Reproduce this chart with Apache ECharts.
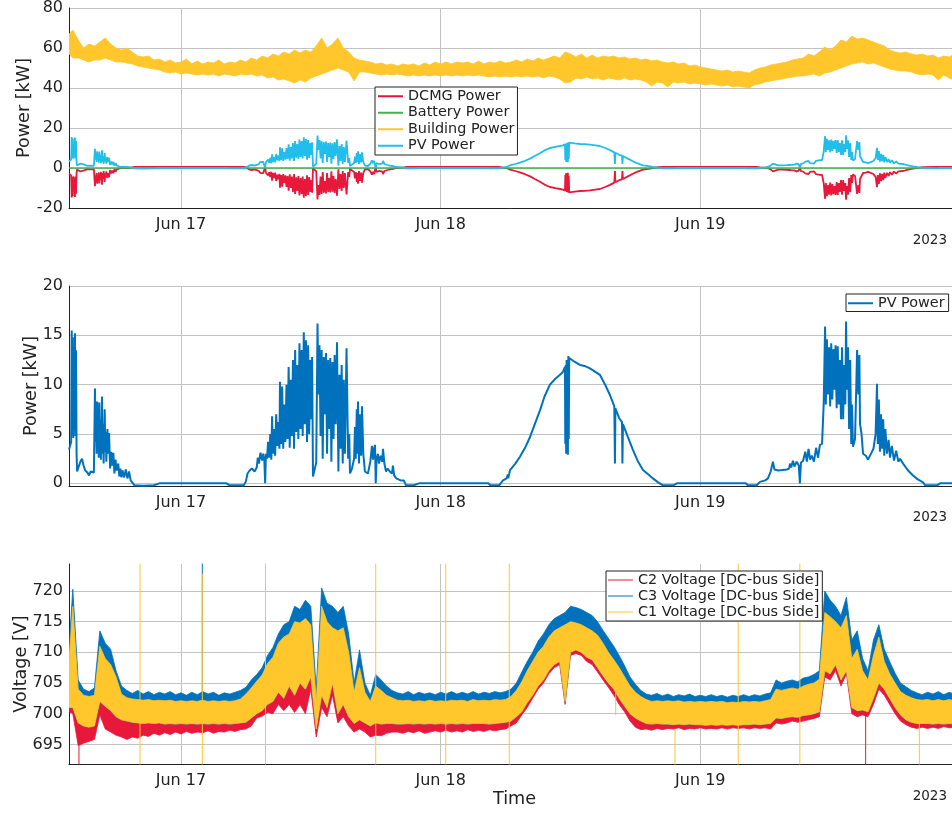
<!DOCTYPE html>
<html><head><meta charset="utf-8">
<script src="https://cdn.jsdelivr.net/npm/echarts@6/dist/echarts.min.js"></script>
<style>html,body{margin:0;padding:0;background:#fff}#c{width:952px;height:813px}</style>
</head><body><div id="c"></div>
<script>
// ---- time axis: hours since 2023-06-16 00:00 ----
const xMinHour = 13.65, xMaxHour = 96;
const dayTicks = [24, 48, 72];
const dayLabels = ['Jun 17', 'Jun 18', 'Jun 19'];
const yearLabel = '2023';

// ---- PV power (kW) and DCMG power (kW), sampled at pvTime ----
const pvTime = [
13.65,13.75,13.85,13.9,13.95,14.0,14.05,14.1,14.15,14.2,14.25,14.3,14.35,14.4,14.55,14.7,
14.85,15.0,15.15,15.35,15.5,15.65,15.8,15.95,16.05,16.1,16.15,16.2,16.25,16.3,16.35,16.4,
16.45,16.5,16.55,16.6,16.7,16.75,16.8,16.85,16.95,17.0,17.05,17.1,17.2,17.25,17.35,17.45,
17.55,17.65,17.75,17.85,17.95,18.05,18.2,18.3,18.4,18.5,18.6,18.75,18.9,19.05,19.2,19.35,
19.5,19.7,20.5,21.5,22.0,28.2,
28.5,29.8,30.0,30.15,30.35,30.55,30.8,31.0,31.1,31.2,31.35,31.5,31.6,31.7,31.78,31.85,
31.95,32.05,32.15,32.25,32.35,32.42,32.5,32.6,32.7,32.8,32.9,33.0,33.1,33.15,33.25,33.35,
33.45,33.55,33.65,33.75,33.85,33.95,34.05,34.15,34.25,34.35,34.45,34.55,34.65,34.75,34.85,34.95,
35.05,35.15,35.25,35.35,35.45,35.55,35.65,35.75,35.85,35.95,36.05,36.12,36.2,36.35,36.5,36.62,
36.7,36.8,36.9,37.0,37.1,37.2,37.3,37.4,37.5,37.6,37.7,37.8,37.9,38.0,38.1,38.2,
38.3,38.42,38.55,38.65,38.75,38.85,38.95,39.05,39.15,39.3,39.45,39.55,39.62,39.8,40.0,40.08,
40.15,40.25,40.3,40.36,40.45,40.55,40.65,40.73,40.85,41.0,41.28,41.5,41.65,41.75,41.85,41.93,
42.0,42.08,42.2,42.3,42.45,42.6,42.67,42.8,42.95,43.1,43.3,43.5,43.59,43.7,43.9,44.1,
44.3,44.6,44.8,45.5,46.0,52.4,
52.6,53.4,53.76,54.1,54.2,54.25,54.41,54.9,55.33,55.8,56.26,56.7,57.18,57.6,58.1,58.6,
59.03,59.3,59.49,59.52,59.56,59.6,59.64,59.68,59.72,59.76,59.8,59.84,59.88,59.95,60.4,60.88,
61.3,61.8,62.3,62.72,63.2,63.65,64.05,64.11,64.15,64.5,64.76,64.8,64.85,65.3,65.77,66.2,
66.7,67.2,67.62,68.1,68.55,69.5,69.84,76.2,76.4,77.2,
77.51,78.0,78.25,78.5,78.71,78.85,79.2,79.6,80.0,80.2,80.3,80.4,80.56,80.7,80.9,81.1,
81.2,81.3,81.5,81.7,81.85,82.0,82.15,82.3,82.5,82.7,82.88,83.05,83.25,83.4,83.53,83.6,
83.7,83.8,83.9,84.0,84.1,84.2,84.3,84.4,84.5,84.6,84.7,84.8,84.9,85.0,85.1,85.2,
85.3,85.4,85.47,85.55,85.65,85.75,85.85,85.95,86.02,86.11,86.3,86.49,86.6,86.7,86.76,86.9,
87.04,87.3,87.5,87.68,88.0,88.2,88.33,88.4,88.5,88.6,88.7,88.8,88.9,89.0,89.1,89.25,
89.4,89.53,89.7,89.9,90.1,90.3,90.46,90.74,91.2,91.66,92.1,92.59,92.77,93.88,94.16,
96.0];
const pvKW = [
3.4,3.8,4.2,15.5,5.0,14.8,4.6,12.0,5.5,15.2,4.8,13.5,3.0,1.2,1.0,2.2,
2.5,1.8,1.3,1.1,0.8,1.2,1.3,1.1,9.6,4.2,7.6,3.0,8.3,4.5,7.0,2.6,
8.2,3.5,6.4,2.4,8.8,3.0,6.0,2.0,7.5,3.2,5.2,2.2,5.5,3.0,5.1,1.5,
3.2,1.8,3.1,1.0,2.4,1.3,2.0,0.7,1.5,0.6,1.3,0.6,1.4,0.5,1.2,0.3,
0.2,-0.2,-0.25,-0.2,0.0,0.0,
-0.2,-0.2,0.2,1.0,1.3,1.5,1.2,1.6,2.6,2.0,3.1,2.3,3.0,2.4,0.0,3.0,
2.5,4.2,2.6,5.0,2.4,6.8,3.0,5.5,2.8,7.0,3.8,6.2,3.5,10.3,4.0,9.8,
3.5,8.0,4.2,10.0,4.5,11.8,3.6,10.5,4.8,12.5,3.5,13.5,5.2,12.0,4.5,14.2,
5.5,13.5,4.8,15.3,6.0,14.5,4.2,14.0,5.0,12.5,6.5,12.8,0.7,0.5,2.1,16.2,
9.0,14.0,4.8,13.5,2.5,12.8,7.0,13.2,3.0,12.5,5.5,12.7,2.2,12.3,4.5,13.0,
6.0,14.3,1.2,11.0,3.5,12.0,2.0,10.5,3.0,13.7,2.5,5.0,1.0,1.5,2.5,5.7,
2.5,7.5,3.0,8.3,2.0,7.0,2.8,7.8,3.0,1.2,1.0,2.2,3.8,2.4,3.5,3.9,
0.0,2.5,3.0,2.0,2.8,2.2,3.5,2.0,1.2,1.5,1.2,1.0,1.8,0.8,0.5,0.4,
0.3,0.3,-0.2,-0.2,0.0,0.0,
-0.2,-0.2,0.3,0.5,0.9,0.5,1.35,2.0,2.7,3.6,4.7,6.0,7.4,8.8,10.0,10.6,
11.0,11.3,11.8,4.0,12.0,3.0,12.5,3.5,12.3,2.9,12.9,4.5,12.7,12.6,12.3,12.0,
11.9,11.65,11.3,11.0,10.0,8.95,7.8,2.0,7.6,6.6,6.2,2.0,6.0,4.7,3.4,2.3,
1.35,0.9,0.5,0.1,-0.2,-0.2,0.0,0.0,-0.2,-0.2,
0.15,0.3,0.5,1.2,2.2,1.4,1.3,1.35,1.4,1.5,2.0,1.6,2.3,1.7,2.2,1.8,
0.0,2.1,2.3,3.2,2.2,3.5,2.4,2.8,2.2,3.6,2.6,3.9,4.0,8.0,15.9,8.0,
14.6,9.0,13.8,7.8,14.2,8.5,13.6,9.5,14.0,7.6,13.9,8.0,12.5,6.5,13.8,6.5,
12.0,8.0,16.4,9.5,13.8,5.5,12.5,4.0,8.0,3.7,4.5,13.5,9.0,13.0,6.0,5.0,
3.0,2.8,2.4,2.6,3.5,5.0,10.1,4.0,8.5,3.2,7.0,3.5,6.5,2.8,5.5,3.0,
4.4,2.6,3.8,2.3,3.3,2.2,2.5,2.0,1.3,0.8,0.4,0.1,-0.2,-0.2,0.0,
0.0];
const dcmgKW = [
-2.9,-3.3,-3.7,-14.8,-4.5,-14.1,-4.1,-11.4,-5.0,-14.5,-4.3,-12.9,-2.5,-0.7,-0.5,-1.7,
-2.0,-1.3,-0.8,-0.6,-0.3,-0.7,-0.8,-0.6,-9.1,-3.7,-7.1,-2.5,-7.8,-4.0,-6.5,-2.1,
-7.7,-3.0,-5.9,-1.9,-8.3,-2.5,-5.5,-1.5,-7.0,-2.7,-4.7,-1.7,-5.0,-2.5,-4.6,-1.0,
-2.7,-1.3,-2.6,-0.5,-1.9,-0.8,-1.5,-0.2,-1.0,-0.1,-0.8,-0.1,-0.9,0.0,-0.7,0.2,
0.3,0.6,0.6,0.6,0.5,0.5,
0.6,0.6,0.3,-0.5,-0.8,-1.0,-0.7,-1.1,-2.1,-1.5,-2.6,-1.8,-2.5,-1.9,0.5,-2.5,
-2.0,-3.7,-2.1,-4.5,-1.9,-6.3,-2.5,-5.0,-2.3,-6.5,-3.3,-5.7,-3.0,-9.8,-3.5,-9.3,
-3.0,-7.5,-3.7,-9.5,-4.0,-11.3,-3.1,-10.0,-4.3,-12.0,-3.0,-13.0,-4.7,-11.5,-4.0,-13.7,
-5.0,-13.0,-4.3,-14.8,-5.5,-14.0,-3.7,-13.5,-4.5,-12.0,-6.0,-12.3,-0.2,0.0,-1.6,-15.7,
-8.5,-13.5,-4.3,-13.0,-2.0,-12.3,-6.5,-12.7,-2.5,-12.0,-5.0,-12.2,-1.7,-11.8,-4.0,-12.5,
-5.5,-13.8,-0.7,-10.5,-3.0,-11.5,-1.5,-10.0,-2.5,-13.2,-2.0,-4.5,-0.5,-1.0,-2.0,-5.2,
-2.0,-7.0,-2.5,-7.8,-1.5,-6.5,-2.3,-7.3,-2.5,-0.7,-0.5,-1.7,-3.3,-1.9,-3.0,-3.4,
0.5,-2.0,-2.5,-1.5,-2.3,-1.7,-3.0,-1.5,-0.7,-1.0,-0.7,-0.5,-1.3,-0.3,0.0,0.1,
0.2,0.2,0.6,0.6,0.5,0.5,
0.6,0.6,0.2,0.0,-0.4,0.0,-0.8,-1.5,-2.2,-3.1,-4.2,-5.5,-6.9,-8.3,-9.5,-10.1,
-10.5,-10.8,-11.3,-3.5,-11.5,-2.5,-12.0,-3.0,-11.8,-2.4,-12.4,-4.0,-12.2,-12.1,-11.8,-11.5,
-11.4,-11.15,-10.8,-10.5,-9.5,-8.45,-7.3,-1.5,-7.1,-6.1,-5.7,-1.5,-5.5,-4.2,-2.9,-1.8,
-0.85,-0.4,0.0,0.4,0.6,0.6,0.5,0.5,0.6,0.6,
0.35,0.2,0.0,-0.7,-1.7,-0.9,-0.8,-0.85,-0.9,-1.0,-1.5,-1.1,-1.8,-1.2,-1.7,-1.3,
0.5,-1.6,-1.8,-2.7,-1.7,-3.0,-1.9,-2.3,-1.7,-3.1,-2.1,-3.4,-3.5,-7.5,-15.4,-7.5,
-14.1,-8.5,-13.3,-7.3,-13.7,-8.0,-13.1,-9.0,-13.5,-7.1,-13.4,-7.5,-12.0,-6.0,-13.3,-6.0,
-11.5,-7.5,-15.9,-9.0,-13.3,-5.0,-12.0,-3.5,-7.5,-3.2,-4.0,-13.0,-8.5,-12.5,-5.5,-4.5,
-2.5,-2.3,-1.9,-2.1,-3.0,-4.5,-9.6,-3.5,-8.0,-2.7,-6.5,-3.0,-6.0,-2.3,-5.0,-2.5,
-3.9,-2.1,-3.3,-1.8,-2.8,-1.7,-2.0,-1.5,-0.8,-0.3,0.1,0.4,0.6,0.6,0.5,
0.5];
const batteryTime = [13.65, 96.0];
const batteryKW = [0, 0];

// ---- half-hour envelopes (start 13.5 h, step 0.5 h) ----
const envStart = 13.5, envStep = 0.5;
// Building power: per half hour, upper and lower extent of the noisy trace (kW)
const buildingHi = [
66,69,64,60,62,61,63,65,62,60, 59,60,58,56,55.5,56,54,54.5,53,54,
52.5,53,54.5,52,53.5,52,53,52.5,54,52, 53,52.5,54,53,55,54,56,55,57,56,
58,57,59,57.5,59,58,61,65,60,62, 65,60,58,55,54,53.5,53,52,52.5,51.5,
52,51,52,51.5,52,51,52.5,51.5,53,52, 53,52,53,52.5,53,52,53.5,52,53,52.5,
53.5,52.5,53,54,53,54.5,53.5,55,54,55, 56,55,58,57,55.5,57,55,56.5,55,56,
55.5,56,55,55.5,54.5,55,54,54.5,53.5,54, 53,52.5,53,52,52.5,51,51.5,50.5,50,49.5,
49,48.5,49,48,48.5,48,47.5,49,50,50.5, 51.5,52,52.5,53,54,54.5,55,57,56,58,
60.5,59,61,64,63,66,64.5,65,64,63, 62,61,59,58,57.5,58,57,56.5,57,56,
56.5,55,56,55.5,57,55];
const buildingLo = [
58,55,55,54,53,54,54,55,54,53, 53,52.5,52,51,50.5,50,49.5,49,48,47.5,
48,47,47.5,47,46.5,47,46.5,47,46,47, 46.5,46,47,46.5,47,46,46.5,45,45.5,44,
44.5,43.5,42.5,44,43,45,46,47,48,49, 50,49,48,43.5,48,48,47.5,47,46.5,47,
46.5,47,46.5,46,46.5,46,46.5,46,46.5,46, 46.5,46,46.5,46,46.5,46,46.5,46,45.5,46,
45.5,46,45.5,46,45.5,46,45.5,46,45,46, 45.5,44.5,42.5,43,45,44.5,45.5,44.5,45,44,
45,44.5,44,45,44,44.5,44,43,41,43, 42.5,40.5,43,42.5,43,42,42.5,42,41.5,42,
41.5,41,41.5,40.5,41,40.5,40,41.5,42,43, 43.5,44,44.5,45,45.5,46,46,46.5,47,46,
47.5,48,49,50,51,52,52.5,53,52,52.5, 51.5,50.5,49.5,49,48.5,48.5,48,47,46.5,47,
46.5,44,46.5,45,44,47];

// Voltages (V): C3 upper extent, C1 upper and lower extent, C2 lower extent
const c3Hi = [
706.5,720.3,705.5,704,703.6,704.2,713.5,711.5,710.5,707,
704.5,703.8,703.3,703.8,703.2,703.6,703.1,703.5,703.2,703.6,
703.1,703.4,703.0,703.5,703.1,703.6,703.2,703.5,703.0,703.4,
703.2,703.5,703.8,704.3,705.5,706.4,707.5,709.5,710.8,713,
714.5,715,717.5,717,718.5,717.5,704,720.5,718,717.5,
716.5,717.5,713,705,710.4,705,703,706.4,705.5,704.5,
703.8,703.4,703.2,703.6,703.1,703.5,703.2,703.4,703.1,703.5,
703.2,703.6,703.2,703.5,703.2,703.6,703.2,703.5,703.3,703.6,
703.4,703.6,704,705,706.8,708.5,710,711.8,713,714.5,
715.5,716,716.5,717.5,717.3,717,716.5,716,715,713.6,
712.3,711,709.5,707.8,706,704.8,703.8,703.2,703,703.3,
702.9,703.2,702.8,703.1,702.9,703.2,702.8,703,702.8,703.1,
702.8,703,702.7,703,702.8,703.1,702.8,703.1,702.9,703.2,
703.4,705.5,705,705.3,705.5,705.2,705.8,706,706.4,707,
720,718.5,717.5,716,719,712,713.5,709,707,712,
714.5,710.5,708.5,706.6,705,704.4,703.8,703.4,703.1,703.5,
703.2,703.6,703.1,703.5,703.2,703.4];
const c1Hi = [
705,717.5,704,703,702.8,703,711,709,708,706,
703.2,702.6,702.4,702.3,702.2,702.3,702.1,702.2,702.1,702.2,
702,702.1,702,702.1,702,702.2,702,702.1,702,702.1,
702,702.1,702.4,703.2,704.2,705.3,706.3,708.2,709.2,711.5,
712.5,713,715,714.8,715.5,714.5,702,717.5,715,714,
713.5,714,710,703.5,707.5,703.5,702,704.5,703.8,703,
702.6,702.2,702.1,702.2,702,702.1,702,702.2,702,702.1,
702,702.2,702.1,702.2,702,702.3,702.1,702.2,702.1,702.3,
702.2,702.3,702.8,703.8,705.2,707,708.5,710,711,712.5,
713.5,714,714.5,715,714.8,714.5,714,713.5,712.8,711.5,
710,708.8,707.5,706,704.5,703.5,702.8,702.3,702,702.1,
702,702.1,702,702.1,701.9,702,701.9,702,701.9,702,
701.9,702,701.8,701.9,701.8,702,701.9,702,701.9,702.1,
702.3,704,703.8,704,704.2,704,704.5,704.8,705,705.6,
716.5,715.8,715,714,716,709,710.5,707,705.5,709.5,
712.5,708.5,706.5,705,703.6,703,702.6,702.3,702.2,702.3,
702.1,702.3,702.1,702.3,702.1,702.2];
const c1Lo = [
701,701,698.5,698,697.8,698,702,701.2,700.5,699.5,
699,698.8,698.6,698.5,698.4,698.5,698.4,698.5,698.3,698.4,
698.3,698.4,698.3,698.4,698.3,698.4,698.3,698.4,698.3,698.4,
698.3,698.4,698.5,698.6,699.3,700,700.5,701.5,702,703.5,
702.5,704.5,703,705,704,706,697.5,703,701,705,
700,701.5,699.5,698.4,699,698.5,698,698.5,698.3,698.4,
698.4,698.3,698.3,698.4,698.3,698.4,698.3,698.4,698.3,698.4,
698.3,698.4,698.3,698.4,698.3,698.4,698.4,698.4,698.3,698.4,
698.5,698.6,698.8,699.5,700.3,701.8,703,704.5,705.5,707,
708,708.5,702,710,710.4,710,709.2,708.8,707.5,706.2,
705,704,702.5,701.2,700,699.3,698.8,698.4,698.3,698.4,
698.3,698.3,698.2,698.3,698.2,698.3,698.2,698.2,698.1,698.2,
698.1,698.2,698.1,698.2,698.1,698.2,698.2,698.3,698.2,698.3,
698.4,699.3,699.2,699.4,699.5,699.4,699.7,699.8,700,700.3,
707,706.5,708,705.5,707,701,700.5,700.6,700.3,702.5,
705,704,702.5,701,699.8,699,698.6,698.4,698.4,698.4,
698.3,698.4,698.3,698.4,698.3,698.4];
const c2Lo = [
700.5,700,694.8,695.2,695.5,695.8,699.8,697.5,697,696.5,
696.2,695.8,696.2,696,696.5,696.3,696.8,696.5,696.9,696.6,
697,696.7,697.1,696.8,697,696.9,697.2,696.8,697.1,697,
697.3,697.1,697.4,697.5,698,699.3,699.6,700.2,700,701.5,
700.5,701.5,700.2,701.5,700,704,696.2,701,699.5,703,
698.5,699.5,698,697,697.5,697,696.2,696.5,696.4,696.8,
697,697,696.8,697.1,696.9,697.2,696.8,697,697.2,697,
697.3,697,697.2,697,697.4,697.1,697.3,697.1,697.4,697.2,
697.4,697.5,698,698.5,699.8,701,702.5,704,705,706.5,
707.5,708,701.5,709.5,709.8,709.5,708.5,708,706.8,705.5,
704.3,703,701.5,700.3,698.8,697.8,697.4,697.5,697.3,697.6,
697.4,697.6,697.5,697.7,697.4,697.6,697.5,697.7,697.5,697.6,
697.5,697.7,697.5,697.7,697.6,697.7,697.5,697.7,697.6,697.7,
697.5,698.5,698.3,698.5,698.8,698.6,698.8,699,699.2,699.5,
706,705.5,707,704.5,706.5,700,699.5,699.8,699.5,701.5,
704,703,701.5,700,698.8,698.2,697.8,697.6,697.8,697.6,
697.8,697.6,697.9,697.7,697.8,697.7];

// isolated spikes in the voltage traces: time (h), from, to (V)
const c1SpikeT  = [20.21, 25.97, 31.81, 42.0, 48.47, 54.34, 64.18, 69.66, 75.5, 81.2, 92.24];
const c1SpikeLo = [690, 690, 690, 690, 690, 690, 699.8, 690, 690, 690, 690];
const c1SpikeHi = [726, 722.8, 726, 726, 726, 726, 704, 697.5, 726, 726, 699];
const c2SpikeT  = [14.57, 87.28];
const c2SpikeLo = [690, 690];
const c2SpikeHi = [698, 700];
const c3SpikeT  = [25.97];
const c3SpikeLo = [703];
const c3SpikeHi = [726];

// ---- styling ----
const FONT = 'DejaVu Sans';
const TXT = '#222222';
const GRID_C = '#c3c3c3';
const COL = {
  dcmg: '#E8183A', battery: '#3DB54A', building: '#FFC72C', pv1: '#22BEEB',
  pv2: '#0072BD', c2: '#E8183A', c3: '#0072BD', c1: '#FFC72C'
};

const envTime = buildingHi.map((_, i) => envStart + envStep * i);

function pairs(ts, vs) { return ts.map((t, i) => [t, vs[i]]); }
function spikes(ts, lo, hi) {
  const out = [];
  ts.forEach((t, i) => { out.push([t, lo[i]], [t, hi[i]], [t, '-']); });
  return out;
}
function band(name, gi, ts, lo, hi, color) {
  return {
    type: 'custom', name, xAxisIndex: gi, yAxisIndex: gi, clip: true,
    itemStyle: { color },
    data: ts.map((t, i) => [t, lo[i], hi[i]]),
    encode: { x: 0, y: [1, 2] },
    renderItem(params, api) {
      if (params.dataIndex !== 0) return null;
      const top = [], bot = [];
      for (let i = 0; i < ts.length; i++) {
        top.push(api.coord([ts[i], hi[i]]));
        bot.push(api.coord([ts[i], lo[i]]));
      }
      return { type: 'polygon', shape: { points: top.concat(bot.reverse()) },
               style: { fill: color, stroke: color, lineWidth: 0.8 } };
    }
  };
}
function line(name, gi, data, color, width) {
  return { type: 'line', name, xAxisIndex: gi, yAxisIndex: gi, data, showSymbol: false,
           symbol: 'none', lineStyle: { color, width }, itemStyle: { color }, connectNulls: false };
}

const xAxisBase = gi => ({
  type: 'value', gridIndex: gi, min: xMinHour, max: xMaxHour,
  axisLine: { show: true, onZero: false, lineStyle: { color: TXT, width: 1 } },
  axisTick: { show: false, customValues: dayTicks },
  axisLabel: { customValues: dayTicks, formatter: v => dayLabels[dayTicks.indexOf(v)] || '',
               fontFamily: FONT, fontSize: 16, color: TXT, margin: 9 },
  splitLine: { show: true, lineStyle: { color: GRID_C, width: 1 } }
});
const yAxisBase = (gi, name, gap, extra) => Object.assign({
  type: 'value', gridIndex: gi, name, nameLocation: 'middle', nameGap: gap, nameMoveOverlap: false,
  nameTextStyle: { fontFamily: FONT, fontSize: 17.6, color: TXT },
  axisLine: { show: true, onZero: false, lineStyle: { color: TXT, width: 1 } },
  axisTick: { show: false },
  axisLabel: { fontFamily: FONT, fontSize: 16, color: TXT, margin: 6 },
  splitLine: { show: true, lineStyle: { color: GRID_C, width: 1 } }
}, extra);

const pvTicks = [0, 5, 10, 15, 20];
const vTicks = [695, 700, 705, 710, 715, 720];

const legendText = { fontFamily: FONT, fontSize: 14.4, color: TXT, lineHeight: 16.5 };
const legendBase = {
  orient: 'vertical', itemGap: 0, itemWidth: 25, itemHeight: 2, icon: 'rect',
  borderColor: TXT, borderWidth: 1, backgroundColor: '#fff', borderRadius: 0,
  selectedMode: false, textStyle: legendText
};
const gridBase = { left: 69, right: -8, height: 200, containLabel: false, outerBoundsMode: 'none' };

const option = {
  animation: false,
  backgroundColor: '#fff',
  grid: [
    Object.assign({ top: 8 }, gridBase),
    Object.assign({ top: 286 }, gridBase),
    Object.assign({ top: 564 }, gridBase)
  ],
  xAxis: [
    xAxisBase(0), xAxisBase(1),
    Object.assign(xAxisBase(2), { name: 'Time', nameLocation: 'middle', nameGap: 26, nameMoveOverlap: false,
      nameTextStyle: { fontFamily: FONT, fontSize: 17.6, color: TXT } })
  ],
  yAxis: [
    yAxisBase(0, 'Power [kW]', 36, { min: -20, max: 80, interval: 20 }),
    yAxisBase(1, 'Power [kW]', 29, { min: -0.27, max: 20,
      axisLabel: { customValues: pvTicks, fontFamily: FONT, fontSize: 16, color: TXT, margin: 6 },
      axisTick: { show: false, customValues: pvTicks } }),
    yAxisBase(2, 'Voltage [V]', 39, { min: 691.8, max: 724.4,
      axisLabel: { customValues: vTicks, fontFamily: FONT, fontSize: 16, color: TXT, margin: 6 },
      axisTick: { show: false, customValues: vTicks } })
  ],
  legend: [
    Object.assign({}, legendBase, { left: 375, top: 87, padding: [1, 3, 1, 3],
      data: [
        { name: 'DCMG Power', itemStyle: { color: COL.dcmg, borderWidth: 0 } },
        { name: 'Battery Power', itemStyle: { color: COL.battery, borderWidth: 0 } },
        { name: 'Building Power', itemStyle: { color: COL.building, borderWidth: 0 } },
        { name: 'PV Power', itemStyle: { color: COL.pv1, borderWidth: 0 } }
      ] }),
    Object.assign({}, legendBase, { left: 846, top: 294, padding: [1, 4, 0, 2],
      data: [{ name: 'PV Power', itemStyle: { color: COL.pv2, borderWidth: 0 } }] }),
    Object.assign({}, legendBase, { left: 606, top: 571, padding: [1, 3, 1, 2], itemHeight: 1,
      textStyle: Object.assign({}, legendText, { lineHeight: 16 }),
      data: [
        { name: 'C2 Voltage [DC-bus Side]', itemStyle: { color: COL.c2, borderWidth: 0 } },
        { name: 'C3 Voltage [DC-bus Side]', itemStyle: { color: COL.c3, borderWidth: 0 } },
        { name: 'C1 Voltage [DC-bus Side]', itemStyle: { color: COL.c1, borderWidth: 0 } }
      ] })
  ],
  graphic: [
    { type: 'text', right: 5, top: 233, style: { text: yearLabel, font: '13.5px "DejaVu Sans"', fill: TXT } },
    { type: 'text', right: 5, top: 510, style: { text: yearLabel, font: '13.5px "DejaVu Sans"', fill: TXT } },
    { type: 'text', right: 5, top: 789, style: { text: yearLabel, font: '13.5px "DejaVu Sans"', fill: TXT } }
  ],
  series: [
    line('DCMG Power', 0, pairs(pvTime, dcmgKW), COL.dcmg, 1.8),
    line('Battery Power', 0, pairs(batteryTime, batteryKW), COL.battery, 1.6),
    band('Building Power', 0, envTime, buildingLo, buildingHi, COL.building),
    line('PV Power', 0, pairs(pvTime, pvKW), COL.pv1, 1.8),

    line('PV Power', 1, pairs(pvTime, pvKW), COL.pv2, 2),

    band('C2 Voltage [DC-bus Side]', 2, envTime, c2Lo, c1Hi, COL.c2),
    line('C2 Voltage [DC-bus Side]', 2, spikes(c2SpikeT, c2SpikeLo, c2SpikeHi), COL.c2, 1),
    band('C3 Voltage [DC-bus Side]', 2, envTime, c1Lo, c3Hi, COL.c3),
    line('C3 Voltage [DC-bus Side]', 2, spikes(c3SpikeT, c3SpikeLo, c3SpikeHi), COL.c3, 1),
    band('C1 Voltage [DC-bus Side]', 2, envTime, c1Lo, c1Hi, COL.c1),
    line('C1 Voltage [DC-bus Side]', 2, spikes(c1SpikeT, c1SpikeLo, c1SpikeHi), COL.c1, 1)
  ]
};

const chart = echarts.init(document.getElementById('c'), null, { renderer: 'canvas' });
chart.setOption(option);
</script>
</body></html>
